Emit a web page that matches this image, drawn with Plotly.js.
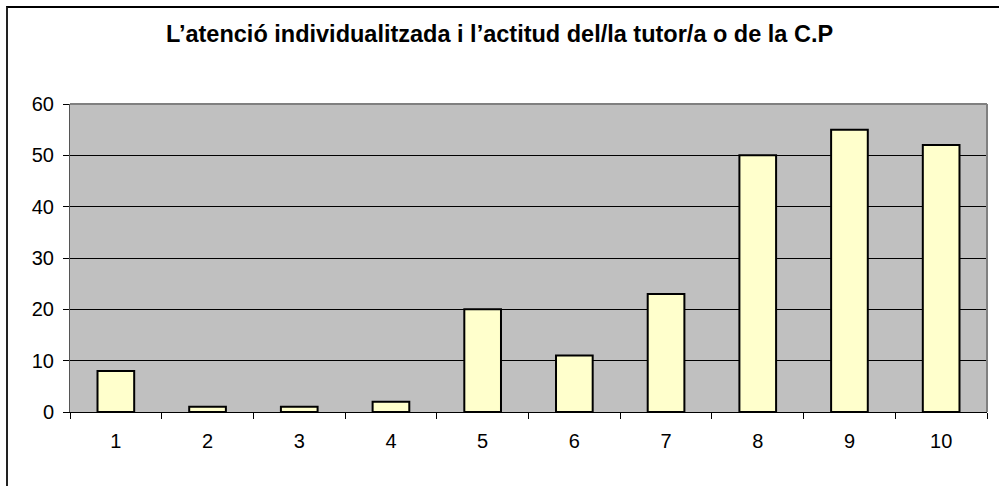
<!DOCTYPE html>
<html>
<head>
<meta charset="utf-8">
<script src="https://cdn.plot.ly/plotly-3.0.1.min.js"></script>
<style>
html,body{margin:0;padding:0;background:#fff;}
#wrap{position:relative;width:999px;height:486px;overflow:hidden;}
#chart{width:999px;height:486px;}
#frame{position:absolute;left:6px;top:6px;width:1100px;height:600px;border-left:2px solid #222;border-top:2px solid #000;pointer-events:none;}
</style>
</head>
<body>
<div id="wrap"><div id="chart"></div><div id="frame"></div></div>
<script>
const categories = ["1","2","3","4","5","6","7","8","9","10"];
const values = [8, 1, 1, 2, 20, 11, 23, 50, 55, 52];
const titleText = "L’atenció individualitzada i l’actitud del/la tutor/a o de la C.P";

const trace = {
  type: "bar",
  x: categories,
  y: values,
  marker: {color: "#FFFFCC", line: {color: "#000000", width: 2}},
  hoverinfo: "none"
};

const layout = {
  width: 999, height: 486,
  margin: {l: 70, r: 12, t: 104, b: 74},
  paper_bgcolor: "#FFFFFF",
  plot_bgcolor: "#C0C0C0",
  bargap: 0.6,
  showlegend: false,
  title: {text: "<b>" + titleText + "</b>", x: 0.5, xanchor: "center", y: 0.93, yanchor: "middle",
          font: {family: "Liberation Sans, Arial, sans-serif", size: 23.5, color: "#000"}},
  font: {family: "Liberation Sans, Arial, sans-serif", size: 20, color: "#000"},
  xaxis: {
    type: "category",
    tickson: "boundaries",
    ticks: "outside", ticklen: 6, tickcolor: "#000", tickwidth: 1,
    showline: true, linecolor: "#000", linewidth: 1,
    showgrid: false, zeroline: false,
    tickfont: {size: 20},
    ticklabelstandoff: 11
  },
  yaxis: {
    range: [0, 60], dtick: 10,
    ticks: "outside", ticklen: 6, tickcolor: "#000", tickwidth: 1,
    showline: true, linecolor: "#555", linewidth: 1,
    showgrid: true, gridcolor: "#000", gridwidth: 1,
    zeroline: false,
    tickfont: {size: 20},
    ticklabelstandoff: 5
  },
  shapes: [
    {type: "line", xref: "paper", yref: "paper", x0: 0, x1: 1, y0: 1, y1: 1, line: {color: "#808080", width: 2}},
    {type: "line", xref: "paper", yref: "paper", x0: 1, x1: 1, y0: 0, y1: 1, line: {color: "#808080", width: 2}}
  ]
};

Plotly.newPlot("chart", [trace], layout, {staticPlot: true, displayModeBar: false});
</script>
</body>
</html>
